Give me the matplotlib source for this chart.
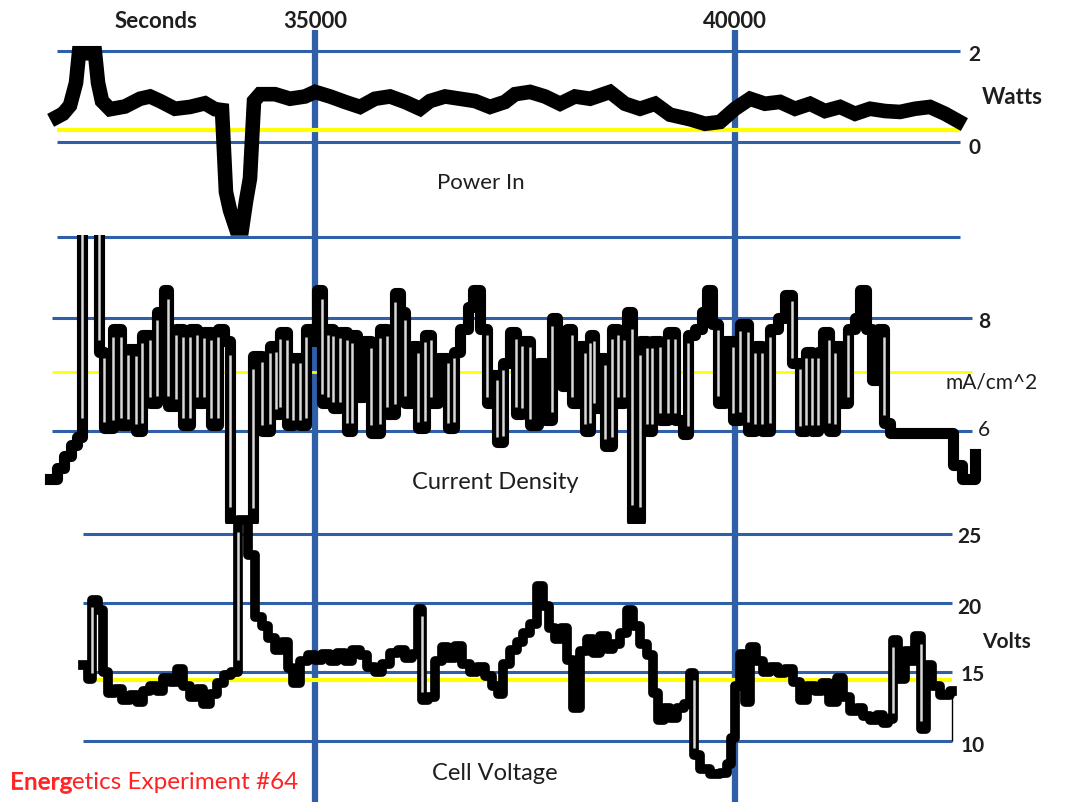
import numpy as np
import matplotlib.pyplot as plt

plt.rcParams['font.family'] = ['Lato', 'DejaVu Sans']

# Power In (W) vs time (s)
power_t = [31929, 32000, 32083, 32155, 32190, 32381, 32417, 32464, 32560, 32738,
           32917, 33036, 33155, 33333, 33512, 33690, 33810, 33893, 33940, 33988,
           34060, 34131, 34179, 34226, 34274, 34345, 34524, 34702, 34881, 35000,
           35179, 35357, 35536, 35714, 35893, 36071, 36250, 36369, 36548, 36726,
           36905, 37083, 37262, 37381, 37560, 37738, 37917, 38095, 38274, 38512,
           38690, 38869, 39048, 39226, 39464, 39643, 39821, 40000, 40179, 40357,
           40536, 40714, 40893, 41071, 41250, 41429, 41607, 41786, 41964, 42143,
           42321, 42500, 42655]
power_w = [0.55, 0.62, 0.8, 1.3, 1.95, 1.95, 1.3, 0.9, 0.72, 0.78,
           0.95, 1.0, 0.9, 0.73, 0.77, 0.85, 0.72, 0.7, -1.1, -1.5,
           -1.9, -1.9, -1.3, -0.8, 0.9, 1.05, 1.05, 0.95, 1.0, 1.1,
           1.0, 0.88, 0.77, 0.95, 1.0, 0.88, 0.73, 0.9, 1.0, 0.95,
           0.9, 0.77, 0.88, 1.05, 1.1, 1.0, 0.84, 1.0, 0.95, 1.1,
           0.84, 0.73, 0.84, 0.6, 0.5, 0.4, 0.44, 0.73, 0.95, 0.84,
           0.88, 0.73, 0.84, 0.68, 0.77, 0.62, 0.73, 0.68, 0.66, 0.73,
           0.77, 0.62, 0.46]

# Current density (mA/cm^2), stepped
cd_t = [31845, 31929, 32012, 32095, 32167, 32226, 32429, 32488, 32595, 32690,
        32774, 32869, 32941, 33036, 33119, 33202, 33250, 33345, 33429, 33512,
        33595, 33679, 33762, 33845, 33917, 33988, 34262, 34369, 34464, 34536,
        34583, 34667, 34738, 34821, 34893, 34964, 35024, 35083, 35155, 35214,
        35298, 35381, 35441, 35500, 35583, 35667, 35774, 35857, 35952, 36012,
        36071, 36155, 36226, 36310, 36381, 36464, 36583, 36655, 36726, 36821,
        36881, 36964, 37048, 37107, 37167, 37238, 37321, 37393, 37464, 37560,
        37655, 37738, 37821, 37881, 37941, 38000, 38060, 38143, 38214, 38274,
        38321, 38393, 38452, 38536, 38607, 38679, 38714, 38774, 38869, 38952,
        39012, 39107, 39202, 39286, 39381, 39440, 39524, 39607, 39667, 39726,
        39798, 39881, 39976, 40060, 40155, 40238, 40321, 40417, 40512, 40595,
        40679, 40774, 40845, 40917, 40988, 41048, 41119, 41190, 41262, 41345,
        41429, 41488, 41560, 41631, 41702, 41774, 41845, 42595, 42702, 42857]
cd_val = [5.15, 5.35, 5.55, 5.75, 5.9, 10.0, 7.4, 6.05, 7.8, 6.1,
          7.45, 6.0, 7.7, 6.5, 8.1, 8.5, 6.45, 7.8, 6.1, 7.8,
          6.5, 7.75, 6.1, 7.8, 7.6, 4.4, 7.33, 6.0, 7.5, 6.3,
          7.75, 6.1, 7.3, 6.1, 7.8, 7.6, 8.5, 6.5, 7.8, 6.4,
          7.75, 6.0, 7.7, 6.6, 7.6, 5.97, 7.8, 6.3, 8.45, 8.1,
          6.5, 7.5, 6.05, 7.7, 6.5, 7.3, 6.05, 7.4, 7.8, 8.2,
          8.5, 7.8, 6.5, 7.0, 5.8, 7.2, 7.75, 6.3, 7.6, 6.1,
          7.2, 6.2, 8.0, 7.6, 6.8, 7.8, 6.5, 7.5, 6.0, 7.7,
          6.4, 7.3, 5.73, 7.8, 6.5, 7.7, 8.1, 4.4, 7.6, 6.0,
          7.6, 6.2, 7.75, 6.2, 5.95, 7.7, 7.8, 8.1, 8.5, 7.9,
          6.5, 7.6, 6.2, 7.9, 6.0, 7.5, 6.0, 7.8, 8.0, 8.4,
          7.2, 6.0, 7.4, 6.0, 7.4, 7.75, 6.0, 7.5, 6.5, 7.8,
          8.0, 8.5, 7.8, 6.9, 7.8, 6.15, 5.97, 5.4, 5.15, 5.6]

# Cell voltage (V), stepped
volt_t = [32238, 32298, 32345, 32417, 32476, 32536, 32619, 32702, 32798, 32881,
          32952, 33036, 33119, 33190, 33274, 33357, 33429, 33512, 33595, 33667,
          33750, 33833, 33917, 34000, 34083, 34202, 34286, 34369, 34440, 34524,
          34607, 34679, 34738, 34821, 34917, 35000, 35083, 35179, 35262, 35357,
          35441, 35536, 35619, 35714, 35798, 35893, 35988, 36071, 36155, 36226,
          36274, 36345, 36429, 36512, 36583, 36667, 36750, 36845, 36929, 37024,
          37107, 37179, 37238, 37322, 37405, 37476, 37560, 37643, 37714, 37786,
          37857, 37929, 38000, 38072, 38155, 38238, 38310, 38393, 38476, 38548,
          38631, 38714, 38786, 38869, 38953, 39024, 39084, 39155, 39226, 39310,
          39393, 39464, 39512, 39584, 39703, 39822, 39905, 39953, 40000, 40060,
          40119, 40179, 40250, 40334, 40417, 40512, 40595, 40691, 40774, 40857,
          40953, 41036, 41119, 41214, 41286, 41369, 41453, 41524, 41607, 41691,
          41762, 41822, 41881, 41941, 42024, 42084, 42143, 42214, 42274, 42345,
          42441, 42560, 42583]
volt_v = [15.5, 14.5, 20.2, 19.5, 15.0, 13.5, 13.8, 13.0, 13.3, 12.8,
          13.6, 14.0, 13.6, 14.6, 14.3, 15.2, 14.0, 13.2, 13.8, 12.7,
          13.4, 14.2, 14.8, 15.0, 26.0, 23.5, 19.0, 18.3, 17.5, 16.6,
          17.2, 15.3, 14.2, 15.8, 16.2, 15.9, 16.3, 15.8, 16.4, 15.8,
          16.6, 16.2, 15.4, 15.0, 15.6, 16.4, 16.6, 16.0, 16.3, 19.6,
          13.0, 13.2, 15.8, 16.8, 16.0, 16.9, 15.6, 15.0, 15.4, 14.7,
          14.0, 13.4, 15.6, 16.6, 17.2, 17.8, 18.5, 21.2, 19.8, 18.2,
          17.4, 18.2, 15.9, 12.4, 16.5, 17.4, 16.4, 17.6, 16.7, 17.0,
          17.8, 19.5, 18.3, 17.0, 16.2, 13.5, 11.5, 12.4, 11.7, 12.4,
          12.7, 14.9, 9.0, 8.0, 7.6, 7.7, 8.3, 10.2, 14.0, 16.3,
          12.8, 16.8, 15.8, 15.0, 15.4, 14.9, 15.2, 14.3, 13.0, 14.0,
          13.6, 14.2, 12.8, 14.6, 13.2, 12.2, 12.4, 11.8, 11.5, 11.9,
          11.3, 11.6, 17.3, 14.5, 16.5, 15.8, 17.6, 10.9, 15.5, 14.0,
          13.3, 13.6, 13.6]

blue = '#2f5fa7'
yellow = '#ffff00'
txt = '#1e1e1e'
T0, T1 = 31250, 43988   # seconds at the left / right edge of the picture


def white_cores(ax, t, v, min_jump):
    # thin light stripe inside tall vertical steps, like the original
    for i in range(1, len(t)):
        lo, hi = sorted((v[i - 1], v[i]))
        if hi - lo > min_jump:
            pad = 0.08 * (hi - lo)
            ax.vlines(t[i], lo + pad, hi - pad, color='#d8d8d8', lw=1.8, zorder=4)


fig = plt.figure(figsize=(10.7, 8.03), dpi=100)

bg = fig.add_axes([0, 0, 1, 1], zorder=0)
bg.set_xlim(T0, T1)
bg.set_ylim(0, 1)
bg.axis('off')
bg.vlines([35000, 40000], 0, 0.962, color=blue, lw=4.5)
bg.text(33107, 0.973, 'Seconds', ha='center', va='center', fontsize=16,
        fontweight='bold', color=txt)
bg.text(35000, 0.973, '35000', ha='center', va='center', fontsize=16,
        fontweight='bold', color=txt)
bg.text(40000, 0.973, '40000', ha='center', va='center', fontsize=16,
        fontweight='bold', color=txt)

# Power In
ax1 = fig.add_axes([0, 0.6887, 1, 0.2740], zorder=1)
ax1.set_xlim(T0, T1)
ax1.set_ylim(-2.352, 2.484)
ax1.axis('off')
ax1.hlines([2, 0, -2.09], 31929, 42680, color=blue, lw=2.2)
ax1.hlines(0.26, 31929, 42680, color=yellow, lw=3)
ax1.plot(power_t, power_w, color='black', lw=10.5, solid_joinstyle='miter')
ax1.text(36976, -0.88, 'Power In', ha='center', va='center', fontsize=16, color=txt)
ax1.text(42774, 1.93, '2', ha='left', va='center', fontsize=15, fontweight='bold', color=txt)
ax1.text(42940, 0.99, 'Watts', ha='left', va='center', fontsize=16, fontweight='bold', color=txt)
ax1.text(42774, -0.11, '0', ha='left', va='center', fontsize=15, fontweight='bold', color=txt)

# Current Density
ax2 = fig.add_axes([0, 0.3462, 1, 0.3599], zorder=2)
ax2.set_xlim(T0, T1)
ax2.set_ylim(4.354, 9.469)
ax2.axis('off')
ax2.hlines([8, 6], 31869, 42822, color=blue, lw=2.2)
ax2.hlines(7.04, 31869, 42822, color=yellow, lw=2)
ax2.step(cd_t, cd_val, where='post', color='black', lw=8, zorder=3)
white_cores(ax2, cd_t, cd_val, 1.2)
ax2.text(37143, 5.1, 'Current Density', ha='center', va='center', fontsize=17, color=txt)
ax2.text(42893, 7.95, '8', ha='left', va='center', fontsize=15, fontweight='bold', color=txt)
ax2.text(42500, 6.88, 'mA/cm^2', ha='left', va='center', fontsize=15, color=txt)
ax2.text(42893, 6.04, '6', ha='left', va='center', fontsize=15, color=txt)

# Cell Voltage
ax3 = fig.add_axes([0, 0.0037, 1, 0.3549], zorder=3)
ax3.set_xlim(T0, T1)
ax3.set_ylim(5.797, 26.449)
ax3.axis('off')
ax3.hlines([25, 20, 15, 10], 32238, 42583, color=blue, lw=2.2)
ax3.hlines(14.42, 32238, 42583, color=yellow, lw=3)
ax3.step(volt_t, volt_v, where='post', color='black', lw=7, zorder=3)
white_cores(ax3, volt_t, volt_v, 5)
ax3.vlines(volt_t[-1], 10, volt_v[-1], color='black', lw=1)
ax3.text(37143, 7.75, 'Cell Voltage', ha='center', va='center', fontsize=17, color=txt)
ax3.text(42643, 24.86, '25', ha='left', va='center', fontsize=15, fontweight='bold', color=txt)
ax3.text(42643, 19.7, '20', ha='left', va='center', fontsize=15, fontweight='bold', color=txt)
ax3.text(42940, 17.25, 'Volts', ha='left', va='center', fontsize=15, fontweight='bold', color=txt)
ax3.text(42690, 14.86, '15', ha='left', va='center', fontsize=15, fontweight='bold', color=txt)
ax3.text(42690, 9.71, '10', ha='left', va='center', fontsize=15, fontweight='bold', color=txt)

fig.text(0.0093, 0.026, 'Energetics Experiment #64', ha='left', va='center',
         fontsize=17.5, color='#ff2222', zorder=5)
fig.text(0.0093, 0.026, 'Energ', ha='left', va='center', fontsize=17.5,
         fontweight='bold', color='#ff2222', alpha=0.85, zorder=5)

fig.savefig('out.png', dpi=100)
